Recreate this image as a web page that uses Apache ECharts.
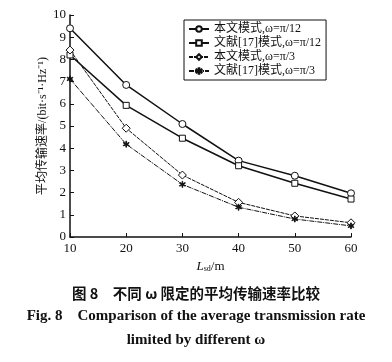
<!DOCTYPE html>
<html><head><meta charset="utf-8">
<script src="https://cdn.jsdelivr.net/npm/echarts@6/dist/echarts.min.js"></script>
<style>html,body{margin:0;padding:0;background:#fff}#c{width:392px;height:362px}</style>
</head><body><div id="c"></div>
<script>
const xTicks = [10, 20, 30, 40, 50, 60];
const seriesNames = ['本文模式,ω=π/12', '文献[17]模式,ω=π/12', '本文模式,ω=π/3', '文献[17]模式,ω=π/3'];
const ours12 = [9.4, 6.85, 5.09, 3.44, 2.76, 1.97];
const ref12 = [8.2, 5.93, 4.45, 3.21, 2.42, 1.71];
const ours3 = [8.42, 4.9, 2.79, 1.56, 0.95, 0.64];
const ref3 = [7.12, 4.18, 2.37, 1.34, 0.81, 0.5];

const star = 'path://M9,0 L11,0 L11,8.3 L18.2,4.1 L19.2,5.9 L12,10 L19.2,14.1 L18.2,15.9 L11,11.7 L11,20 L9,20 L9,11.7 L1.8,15.9 L0.8,14.1 L8,10 L0.8,5.9 L1.8,4.1 L9,8.3 Z';
const serif = '"Liberation Serif","DejaVu Serif",serif';
const cjk = '"Liberation Serif","Noto Sans CJK SC",serif';
function pairs(arr){ return xTicks.map((x,i)=>[x,arr[i]]); }
function mk(name, data, symbol, size, lineType, width){
  return {name, type:'line', data:pairs(data), symbol, symbolSize:size,
    lineStyle:{color:'#111', width, type:lineType},
    itemStyle:{color: symbol===star ? '#111' : '#fff', borderColor:'#111', borderWidth:1},
    emphasis:{disabled:true}, animation:false, z: 3};
}
const chart = echarts.init(document.getElementById('c'));
chart.setOption({
  backgroundColor:'#fff',
  animation:false,
  grid:{left:70, right:41, top:15, bottom:125},
  xAxis:{type:'value', min:10, max:60, interval:10,
    axisLine:{lineStyle:{color:'#111', width:1.5}},
    axisTick:{inside:true, length:4, lineStyle:{color:'#111'}},
    axisLabel:{color:'#111', fontFamily:serif, fontSize:13, margin:5},
    splitLine:{show:false},
    name:'{i|L}{s|sd}{n|/m}', nameLocation:'middle', nameGap:14,
    nameTextStyle:{rich:{
      i:{fontFamily:serif, fontStyle:'italic', fontSize:13, color:'#111'},
      s:{fontFamily:serif, fontSize:8, color:'#111', verticalAlign:'bottom', padding:[6,0,0,0]},
      n:{fontFamily:serif, fontSize:13, color:'#111'}}}
  },
  yAxis:{type:'value', min:0, max:10, interval:1,
    axisLine:{show:true, lineStyle:{color:'#111', width:1.5}},
    axisTick:{show:true, inside:true, length:4, lineStyle:{color:'#111'}},
    axisLabel:{color:'#111', fontFamily:serif, fontSize:13, margin:4},
    splitLine:{show:false},
    name:'平均传输速率/(bit·s⁻¹·Hz⁻¹)', nameLocation:'middle', nameGap:21, nameRotate:90,
    nameMoveOverlap:false,
    nameTextStyle:{color:'#111', fontFamily:cjk, fontSize:12}
  },
  legend:{orient:'vertical', left:184, top:20, itemWidth:20, itemHeight:7, itemGap:2,
    padding:[3,5,3,4], borderColor:'#111', borderWidth:1, backgroundColor:'#fff',
    textStyle:{color:'#111', fontFamily:cjk, fontSize:12},
    data:seriesNames, selectedMode:false},
  series:[
    mk(seriesNames[0], ours12, 'circle', 7, 'solid', 1.5),
    mk(seriesNames[1], ref12, 'rect', 6, 'solid', 1.5),
    mk(seriesNames[2], ours3, 'diamond', 8, [4,1], 1),
    mk(seriesNames[3], ref3, star, 6, [5,1,1,1], 1)
  ],
  graphic:[
    {type:'text', left:'center', top:286, style:{text:'图 8　不同 ω 限定的平均传输速率比较', fill:'#111', font:'bold 14.5px "Noto Sans CJK SC", serif'}},
    {type:'text', left:'center', top:309, style:{text:'Fig. 8　Comparison of the average transmission rate', fill:'#111', font:'bold 15px "Liberation Serif", serif'}},
    {type:'text', left:'center', top:333, style:{text:'limited by different ω', fill:'#111', font:'bold 15px "Liberation Serif", serif'}}
  ]
});
</script></body></html>
